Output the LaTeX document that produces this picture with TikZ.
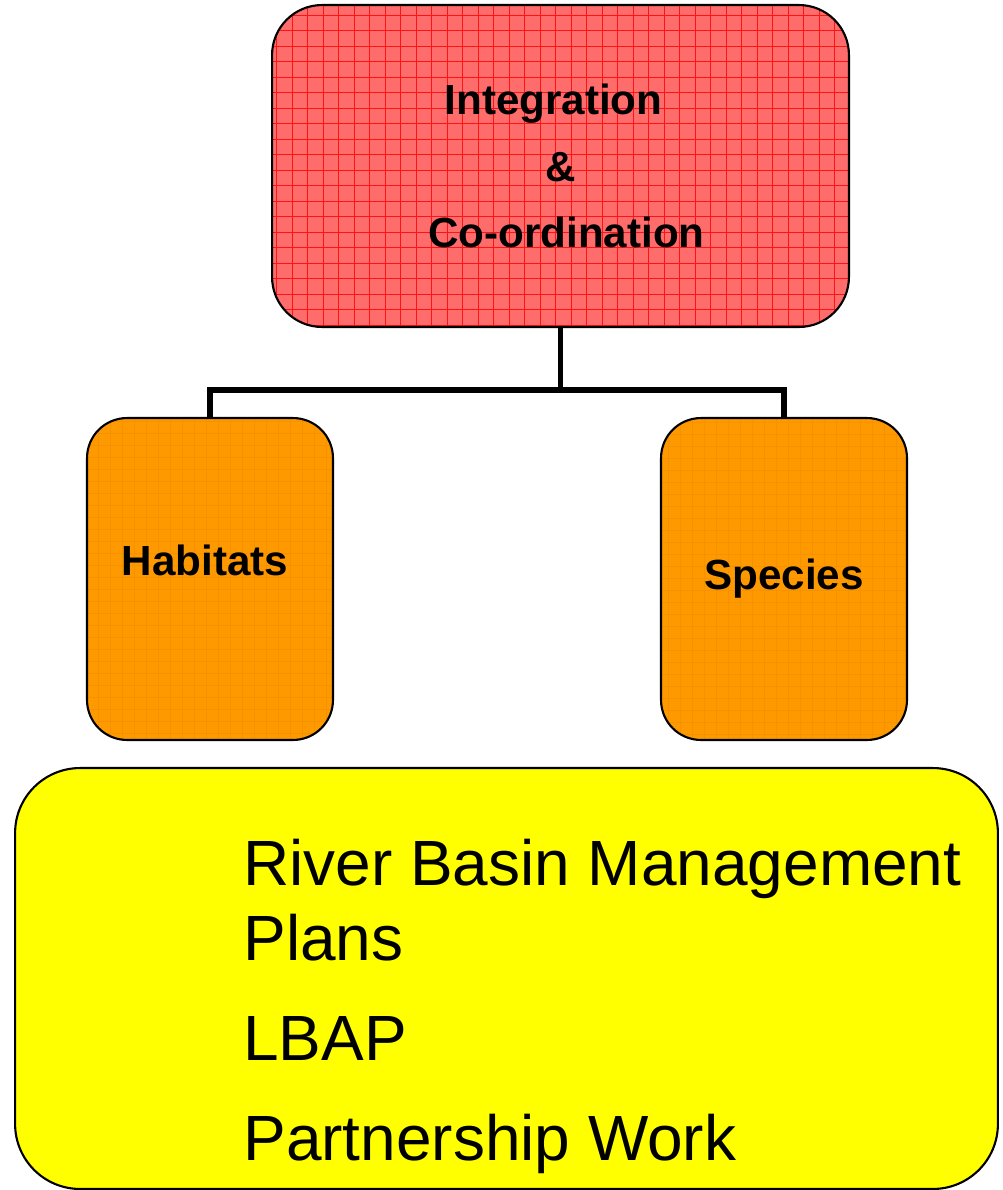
\documentclass[tikz,border=0pt]{standalone}
\usepackage{fontspec}
\setmainfont{Liberation Sans}
\usetikzlibrary{positioning}
\definecolor{boxred}{RGB}{255,108,108}
\definecolor{gridred}{RGB}{255,20,20}
\definecolor{boxorange}{RGB}{255,153,0}
\definecolor{gridorange}{RGB}{246,146,0}
\definecolor{boxyellow}{RGB}{255,255,0}

\begin{document}
\begin{tikzpicture}[
    x=0.02cm, y=-0.02cm,
    box/.style={rectangle, draw=black, line width=1.2pt, align=center, inner sep=0pt},
    topbox/.style={box, fill=boxred, rounded corners=1cm, minimum width=11.54cm, minimum height=6.44cm,
        font=\fontsize{24}{38}\selectfont\bfseries,
        path picture={\draw[gridred, line width=0.5pt, step=0.31cm] (path picture bounding box.south west) grid (path picture bounding box.north east);}},
    catbox/.style={box, fill=boxorange, rounded corners=0.8cm, minimum width=4.92cm, minimum height=6.44cm,
        font=\fontsize{24}{30}\selectfont\bfseries,
        path picture={\draw[gridorange, line width=0.3pt, step=0.24cm] (path picture bounding box.south west) grid (path picture bounding box.north east);}},
    basebox/.style={box, fill=boxyellow, rounded corners=1.3cm, minimum width=19.66cm, minimum height=8.42cm},
    itemtext/.style={align=left, inner sep=0pt, font=\fontsize{36.4}{42.8}\selectfont},
    link/.style={draw=black, line width=3.4pt},
]
\useasboundingbox (0,0) rectangle (1003,1190);

\node[topbox] (integ) at (560.5,166) {Integration\hspace*{0.28cm}\\ \&\\ \hspace{0.24cm}Co-ordination};
\node[catbox] (habitats) at (210,579) {\raisebox{0.76cm}{Habitats\hspace{0.2cm}}};
\node[catbox] (species) at (784,579) {Species};
\node[basebox] (plans) at (506.5,978.5) {};
\node[itemtext, anchor=north west] (items) at (243,839)
    {River Basin Management\\ Plans\\[14pt] LBAP\\[14pt] Partnership Work};

% tree links from the top box down to the two groups
\coordinate (branch) at (integ.south |- 0,390);
\draw[link] (integ.south) -- (branch);
\draw[link] (habitats.north) |- (branch) -| (species.north);
\end{tikzpicture}
\end{document}
